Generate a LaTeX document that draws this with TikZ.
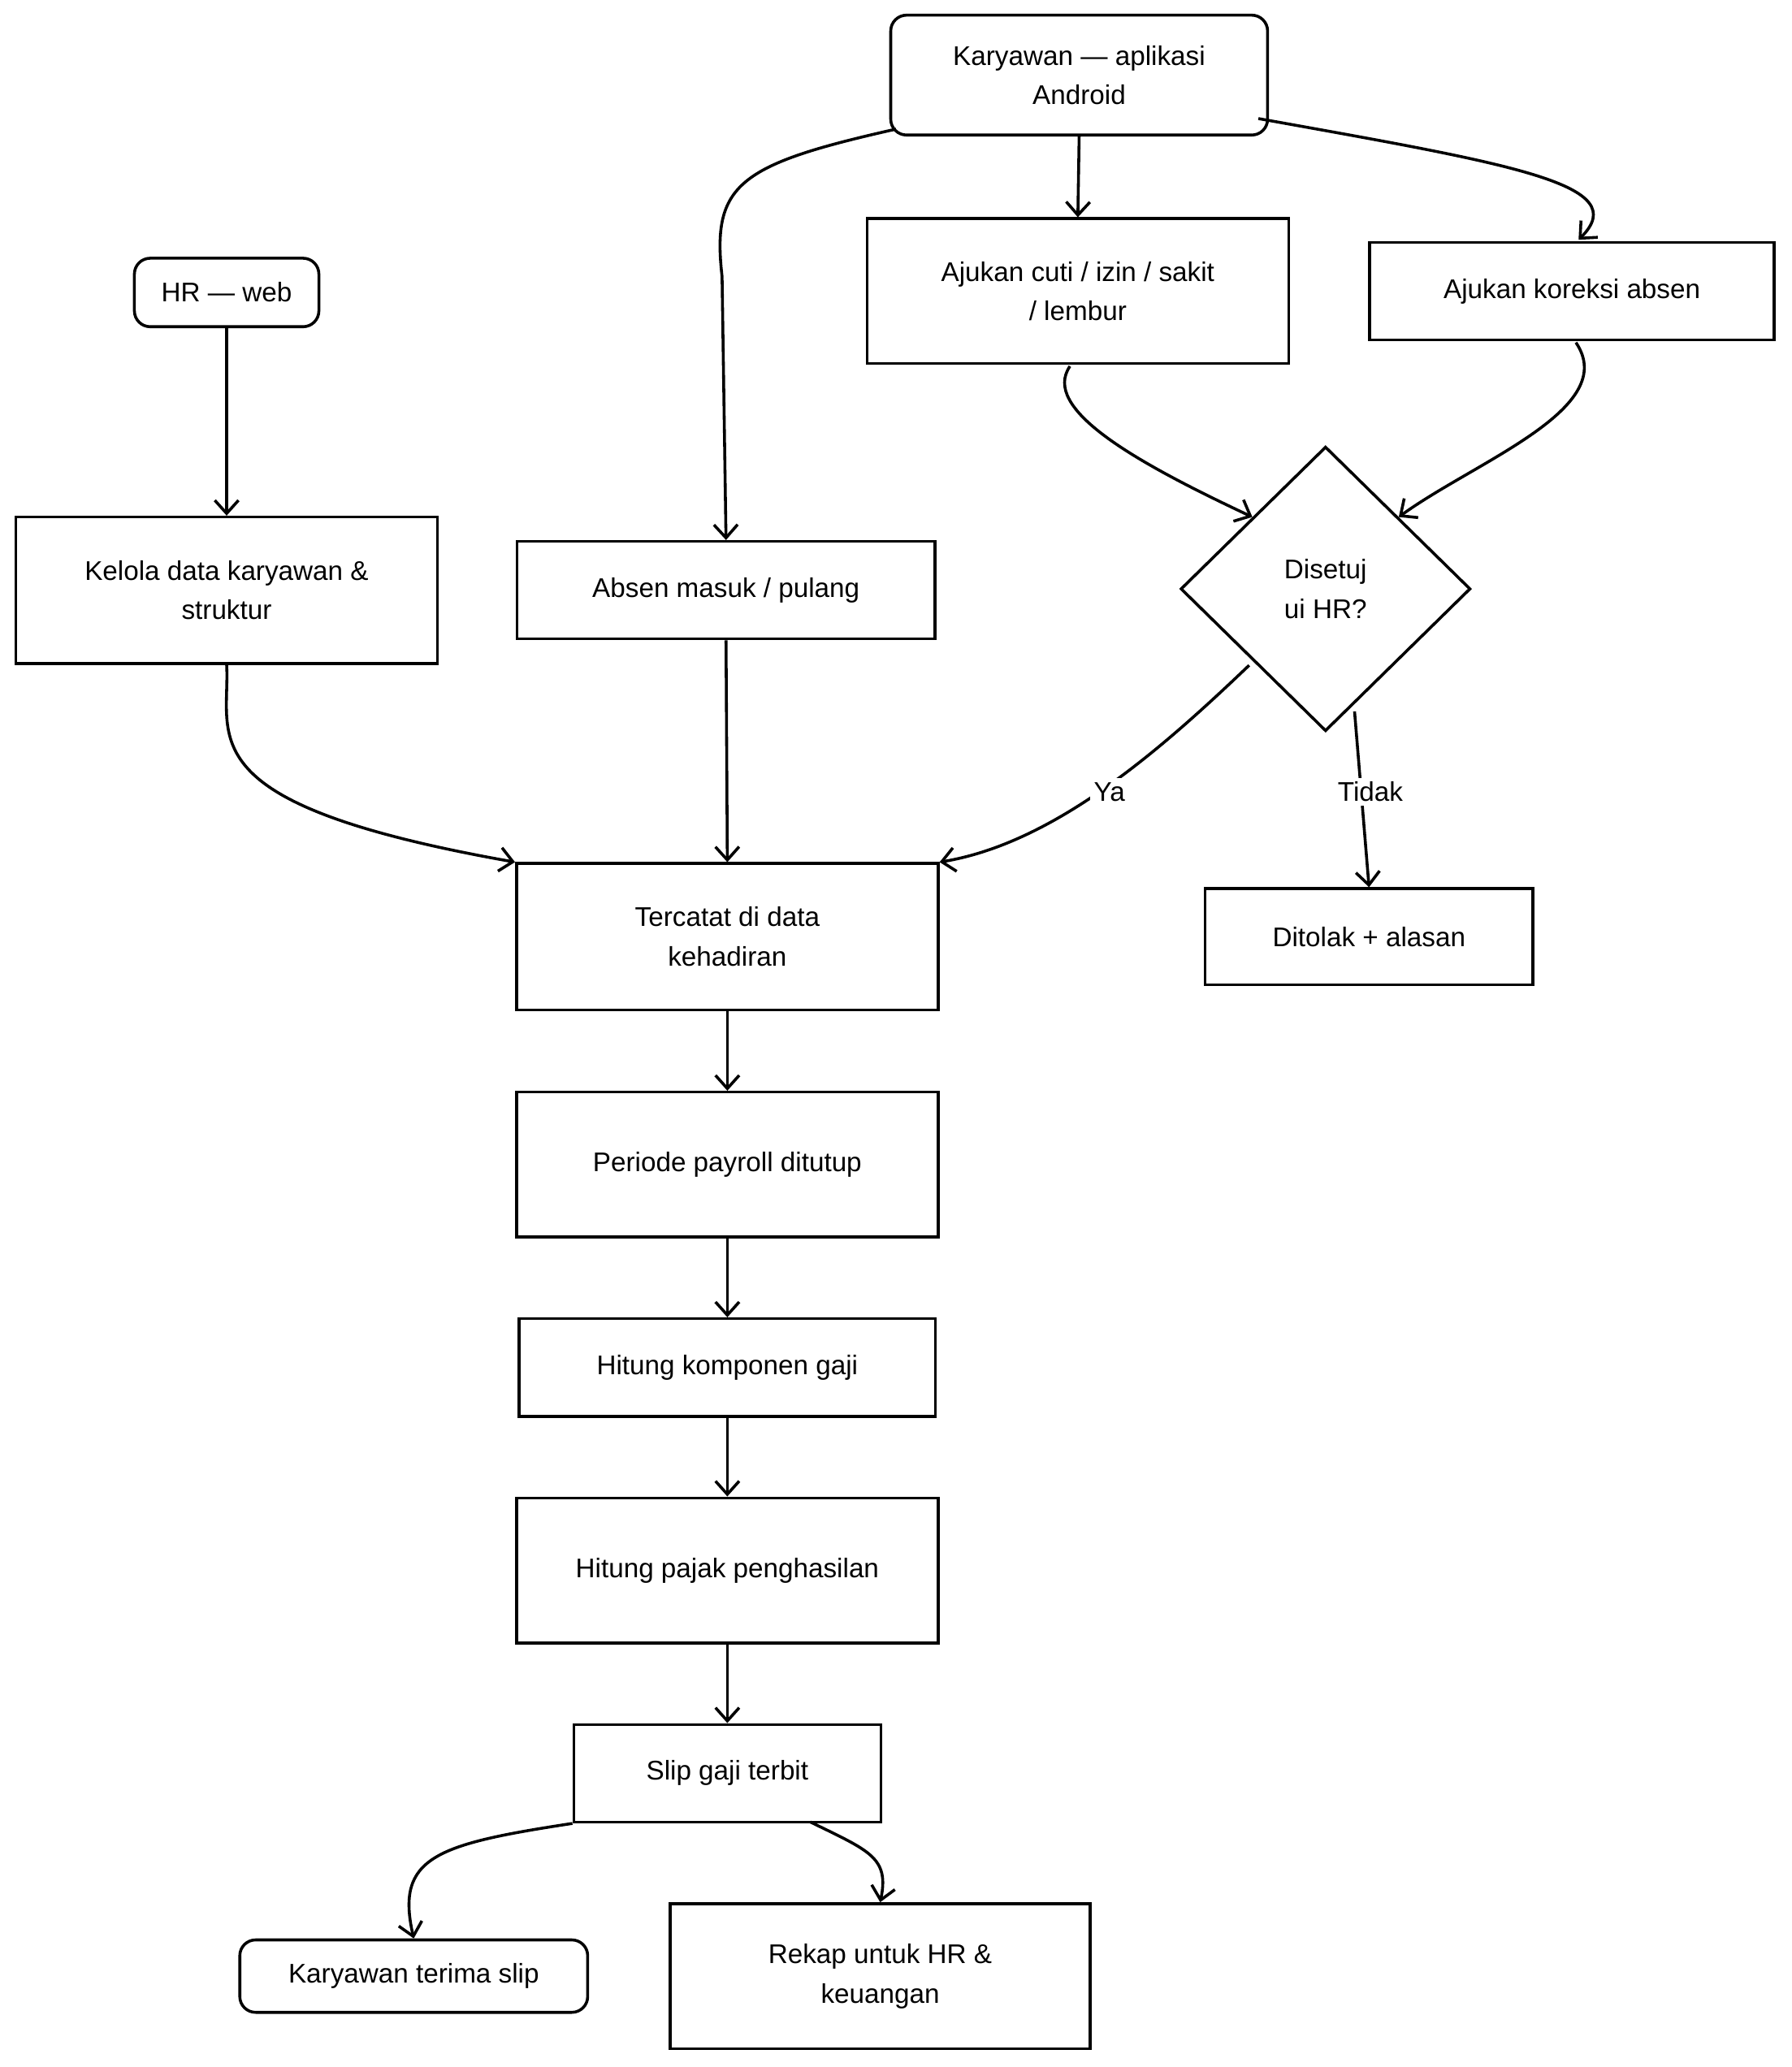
\documentclass[tikz,border=0pt]{standalone}
\usepackage{fontspec}
\setmainfont{Liberation Sans}
\usetikzlibrary{arrows.meta,shapes.geometric}
\begin{document}
\begin{tikzpicture}[x=1pt,y=-1pt,
  font=\fontsize{20.5}{30}\selectfont,
  box/.style={draw,line width=2.2pt,align=center,inner sep=0pt},
  rbox/.style={box,rounded corners=12pt},
  ar/.style={line width=2.2pt,-{Straight Barb[length=10pt,width=18pt,line width=2.2pt]}},
  lbl/.style={fill=white,inner sep=3pt}]
\useasboundingbox (0,0) rectangle (1360,1569);
\node[rbox,minimum width=286pt,minimum height=91pt] (app) at (819,57) {Karyawan — aplikasi\\Android};
\node[rbox,minimum width=140pt,minimum height=52pt] (hr) at (172,222) {HR — web};
\node[box,minimum width=320pt,minimum height=110pt] (cuti) at (818,221) {Ajukan cuti / izin / sakit\\/ lembur};
\node[box,minimum width=307pt,minimum height=74pt] (kor) at (1193,221) {Ajukan koreksi absen};
\node[box,minimum width=320pt,minimum height=111pt] (kel) at (172,448) {Kelola data karyawan \&\\struktur};
\node[box,minimum width=317pt,minimum height=74pt] (abs) at (551,448) {Absen masuk / pulang};
\node[draw,line width=2.2pt,diamond,minimum width=220pt,minimum height=216pt,inner sep=0pt,align=center] (dis) at (1006,447) {Disetuj\\ui HR?};
\node[box,minimum width=320pt,minimum height=111pt] (ter) at (552,711) {Tercatat di data\\kehadiran};
\node[box,minimum width=249pt,minimum height=73pt] (tol) at (1039,711) {Ditolak + alasan};
\node[box,minimum width=320pt,minimum height=110pt] (per) at (552,884) {Periode payroll ditutup};
\node[box,minimum width=316pt,minimum height=74pt] (kom) at (552,1038) {Hitung komponen gaji};
\node[box,minimum width=320pt,minimum height=110pt] (paj) at (552,1192) {Hitung pajak penghasilan};
\node[box,minimum width=233pt,minimum height=74pt] (slip) at (552,1346) {Slip gaji terbit};
\node[rbox,minimum width=264pt,minimum height=55pt] (ter2) at (314,1500) {Karyawan terima slip};
\node[box,minimum width=319pt,minimum height=110pt] (rek) at (668,1500) {Rekap untuk HR \&\\keuangan};
\coordinate (a1) at (680,98);
\draw[ar] (a1) .. controls (560,125) and (540,140) .. (548,210) -- (abs.north);
\draw[ar] (app.south) -- (cuti.north);
\coordinate (a2) at (955,90);
\draw[ar] (a2) .. controls (1150,125) and (1240,140) .. (1198,182);
\draw[ar] (hr.south) -- (kel.north);
\coordinate (c1) at (812,278);
\draw[ar] (c1) .. controls (790,310) and (860,350) .. (dis.north west);
\coordinate (k1) at (1196,260);
\draw[ar] (k1) .. controls (1230,310) and (1120,350) .. (dis.north east);
\draw[ar] (kel.south) .. controls (175,560) and (140,610) .. (ter.north west);
\draw[ar] (abs.south) -- (ter.north);
\coordinate (d1) at (948,505);
\draw[ar] (d1) .. controls (880,570) and (800,640) .. (ter.north east);
\node[lbl] (ya) at (842,601) {Ya};
\coordinate (d2) at (1028,540);
\draw[ar] (d2) -- (tol.north);
\node[lbl] (td) at (1040,601) {Tidak};
\draw[ar] (ter.south) -- (per.north);
\draw[ar] (per.south) -- (kom.north);
\draw[ar] (kom.south) -- (paj.north);
\draw[ar] (paj.south) -- (slip.north);
\draw[ar] (slip.south west) .. controls (330,1400) and (300,1410) .. (ter2.north);
\coordinate (s2) at (615,1383);
\draw[ar] (s2) .. controls (660,1405) and (675,1410) .. (rek.north);
\end{tikzpicture}
\end{document}
